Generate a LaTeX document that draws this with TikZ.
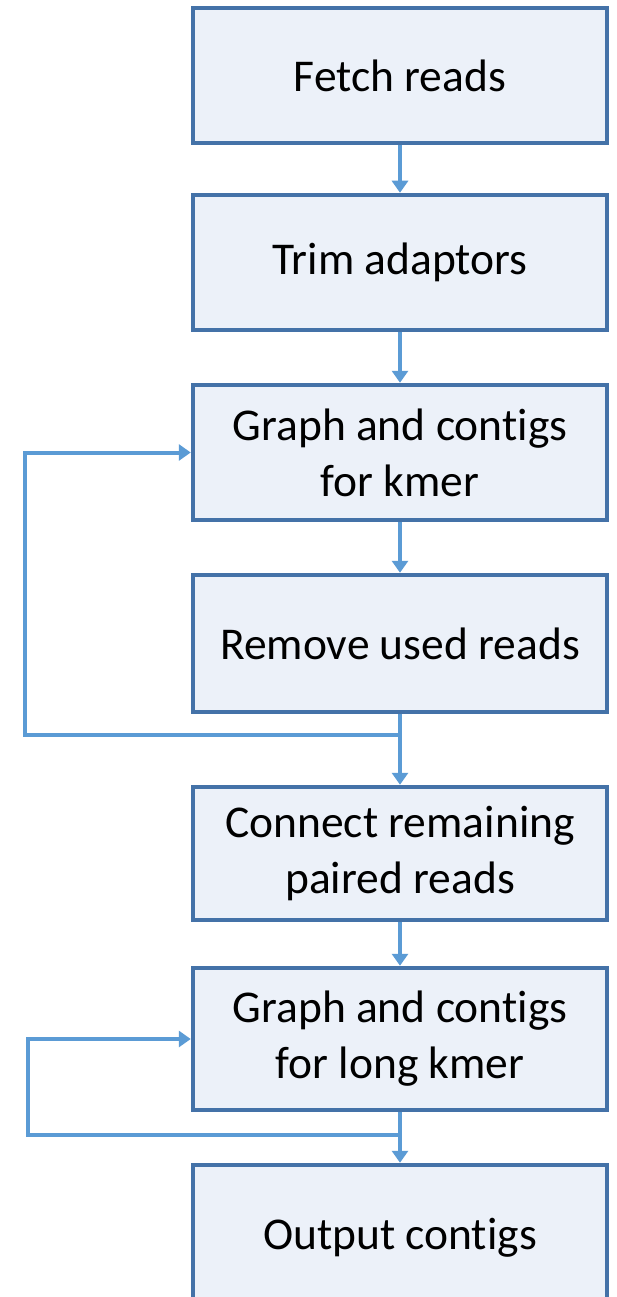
\documentclass[tikz,border=0pt]{standalone}
\usepackage{fontspec}
\setmainfont{Carlito}[Ligatures=NoCommon]
\usetikzlibrary{arrows.meta}
\definecolor{boxline}{HTML}{4472A8}
\definecolor{boxfill}{HTML}{ECF1F9}
\definecolor{arrowc}{HTML}{5B9BD5}
\begin{document}
\begin{tikzpicture}[x=1pt,y=-1pt,
  box/.style={draw=boxline, line width=4.5pt, fill=boxfill, minimum width=414pt, inner sep=0pt, align=center, font=\fontsize{45.5}{56}\selectfont},
  flow/.style={draw=arrowc, line width=4pt, -{Triangle[width=16pt,length=12pt]}}]
\useasboundingbox (0,0) rectangle (616,1297);
\fill[white] (0,0) rectangle (616,1297);
\node[box, minimum height=135pt] (b1) at (400,75.5) {Fetch reads};
\node[box, minimum height=135pt] (b2) at (400,262.5) {Trim adaptors};
\node[box, minimum height=135pt] (b3) at (400,452.5) {Graph and contigs\\for kmer};
\node[box, minimum height=137pt] (b4) at (400,643.5) {Remove used reads};
\node[box, minimum height=133pt] (b5) at (400,853.5) {Connect remaining\\paired reads};
\node[box, minimum height=142pt] (b6) at (400,1039) {Graph and contigs\\for long kmer};
\node[box, minimum height=145pt] (b7) at (400,1237.5) {Output contigs};
\coordinate (j1) at (400,735);
\coordinate (l1) at (25,735);
\coordinate (j2) at (400,1135);
\coordinate (l2) at (28,1135);
\draw[flow] (b1) -- (b2);
\draw[flow] (b2) -- (b3);
\draw[flow] (b3) -- (b4);
\draw[flow] (b4) -- (b5);
\draw[flow] (b5) -- (b6);
\draw[flow] (b6) -- (b7);
\draw[flow] (j1) -- (l1) |- (b3.west);
\draw[flow] (j2) -- (l2) |- (b6.west);
\end{tikzpicture}
\end{document}
